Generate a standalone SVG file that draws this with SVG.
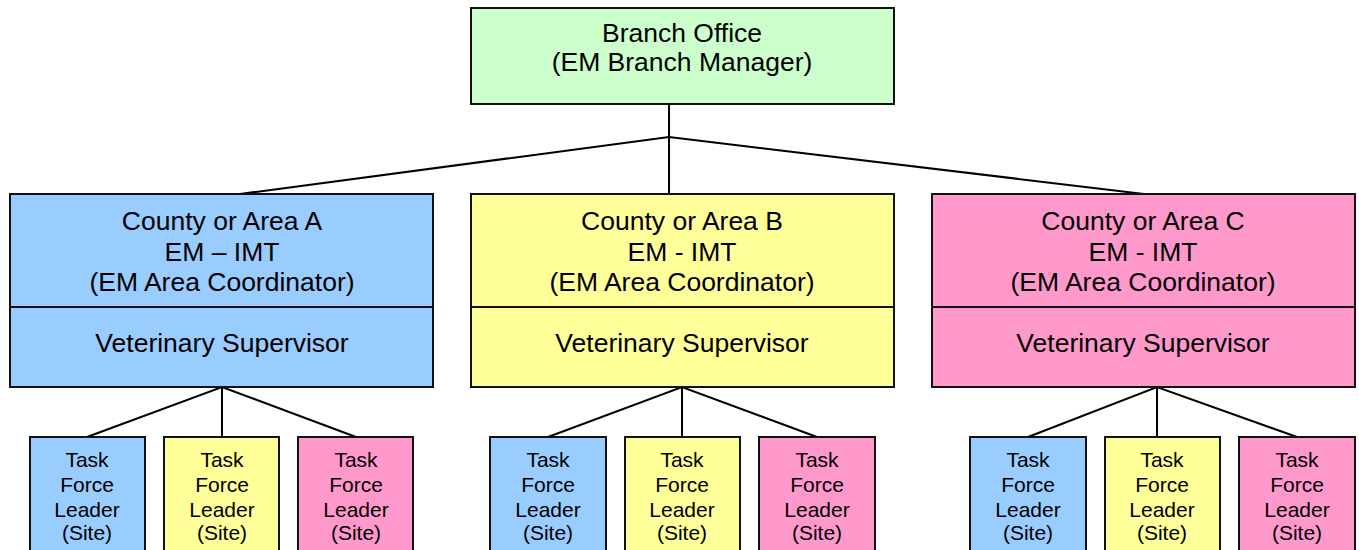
<svg xmlns="http://www.w3.org/2000/svg" width="1359" height="550" viewBox="0 0 1359 550">
  <style>
    .box { stroke: #111; stroke-width: 2; }
    .green { fill: #CCFFCC; }
    .blue { fill: #99CCFF; }
    .yellow { fill: #FFFF99; }
    .pink { fill: #FF99CC; }
    .lbl { font-family: "Liberation Sans", Arial, sans-serif; font-size: 26.5px; fill: #000; text-anchor: middle; }
    .sm { font-family: "Liberation Sans", Arial, sans-serif; font-size: 21px; fill: #000; text-anchor: middle; }
    .conn { stroke: #000; stroke-width: 2; fill: none; }
  </style>
  <defs>
    <!-- task force leader card text -->
    <g id="tfl-text">
      <text class="sm" x="0" y="467">Task</text>
      <text class="sm" x="0" y="492">Force</text>
      <text class="sm" x="0" y="516.5">Leader</text>
      <text class="sm" x="0" y="540">(Site)</text>
    </g>
  </defs>

  <rect width="1359" height="550" fill="#fff"/>

  <g id="connectors">
    <polyline class="conn" points="669,104 669,194"/>
    <polyline class="conn" points="240,194 669,137 1144,194"/>
    <!-- area A -->
    <polyline class="conn" points="87,437 222,387 356,437"/>
    <polyline class="conn" points="222,387 222,437"/>
    <!-- area B -->
    <polyline class="conn" points="548,437 682,387 817,437"/>
    <polyline class="conn" points="682,387 682,437"/>
    <!-- area C -->
    <polyline class="conn" points="1028,437 1157,387 1297,437"/>
    <polyline class="conn" points="1157,387 1157,437"/>
  </g>

  <g id="branch-office">
    <rect class="box green" x="471" y="8" width="423" height="96"/>
    <text class="lbl" x="682" y="42">Branch Office</text>
    <text class="lbl" x="682" y="71">(EM Branch Manager)</text>
  </g>

  <g id="area-a">
    <rect class="box blue" x="10" y="194" width="423" height="193"/>
    <line class="box" x1="10" y1="307" x2="433" y2="307"/>
    <text class="lbl" x="222" y="230">County or Area A</text>
    <text class="lbl" x="222" y="261">EM – IMT</text>
    <text class="lbl" x="222" y="291">(EM Area Coordinator)</text>
    <text class="lbl" x="222" y="352">Veterinary Supervisor</text>
  </g>

  <g id="area-b">
    <rect class="box yellow" x="471" y="194" width="423" height="193"/>
    <line class="box" x1="471" y1="307" x2="894" y2="307"/>
    <text class="lbl" x="682" y="230">County or Area B</text>
    <text class="lbl" x="682" y="261">EM - IMT</text>
    <text class="lbl" x="682" y="291">(EM Area Coordinator)</text>
    <text class="lbl" x="682" y="352">Veterinary Supervisor</text>
  </g>

  <g id="area-c">
    <rect class="box pink" x="932" y="194" width="423" height="193"/>
    <line class="box" x1="932" y1="307" x2="1355" y2="307"/>
    <text class="lbl" x="1143" y="230">County or Area C</text>
    <text class="lbl" x="1143" y="261">EM - IMT</text>
    <text class="lbl" x="1143" y="291">(EM Area Coordinator)</text>
    <text class="lbl" x="1143" y="352">Veterinary Supervisor</text>
  </g>

  <g id="tfl-a1"><rect class="box blue" x="30" y="437" width="115" height="125"/><use href="#tfl-text" x="87"/></g>
  <g id="tfl-a2"><rect class="box yellow" x="164" y="437" width="115" height="125"/><use href="#tfl-text" x="222"/></g>
  <g id="tfl-a3"><rect class="box pink" x="298" y="437" width="115" height="125"/><use href="#tfl-text" x="356"/></g>

  <g id="tfl-b1"><rect class="box blue" x="490" y="437" width="116" height="125"/><use href="#tfl-text" x="548"/></g>
  <g id="tfl-b2"><rect class="box yellow" x="625" y="437" width="115" height="125"/><use href="#tfl-text" x="682"/></g>
  <g id="tfl-b3"><rect class="box pink" x="759" y="437" width="116" height="125"/><use href="#tfl-text" x="817"/></g>

  <g id="tfl-c1"><rect class="box blue" x="970" y="437" width="116" height="125"/><use href="#tfl-text" x="1028"/></g>
  <g id="tfl-c2"><rect class="box yellow" x="1105" y="437" width="115" height="125"/><use href="#tfl-text" x="1162"/></g>
  <g id="tfl-c3"><rect class="box pink" x="1239" y="437" width="116" height="125"/><use href="#tfl-text" x="1297"/></g>
</svg>
